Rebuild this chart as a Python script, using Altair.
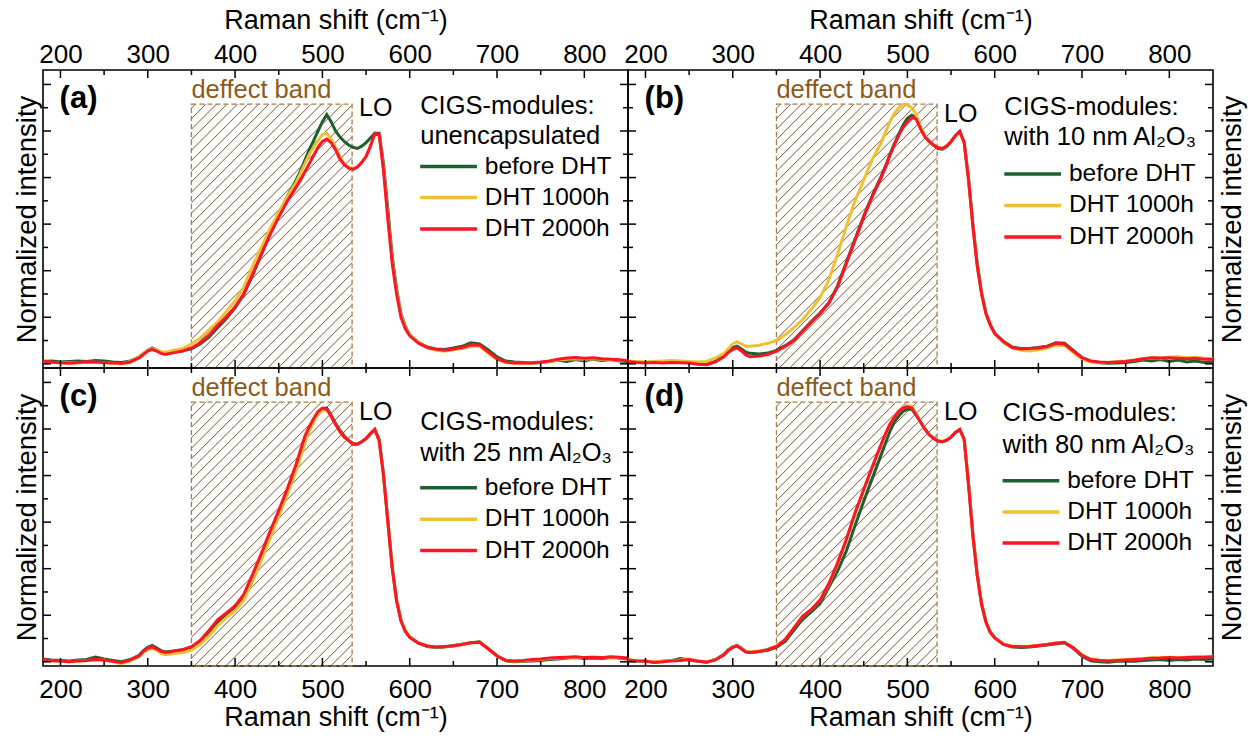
import altair as alt
import pandas as pd

# ---------------- data ----------------
X = [180, 190, 200, 210, 220, 230, 240, 250, 260, 270, 280,
     290, 295, 300, 305, 310, 315, 320,
     330, 340, 350, 360, 370, 380, 390, 400, 410, 420, 430, 440, 450, 460,
     470, 475, 480, 485, 490, 495, 500, 505, 510, 515, 520, 525, 530, 535, 540, 545, 550, 555, 560, 565, 570, 575, 580, 585, 590, 595, 600,
     610, 620, 630, 640, 650, 660, 670, 680, 690, 700, 710, 720, 730, 740, 750, 760, 770, 780, 790, 800, 810, 820, 830, 840, 850]

A_BEFORE = [0.010, 0.012, 0.008, 0.010, 0.012, 0.010, 0.014, 0.012, 0.008, 0.006, 0.012,
            0.030, 0.045, 0.058, 0.068, 0.060, 0.050, 0.045,
            0.050, 0.056, 0.064, 0.085, 0.115, 0.155, 0.195, 0.240, 0.300, 0.380, 0.470, 0.560, 0.645, 0.720,
            0.790, 0.830, 0.875, 0.920, 0.960, 1.000, 1.040, 1.070, 1.040, 1.000, 0.975, 0.955, 0.940, 0.930, 0.925, 0.935, 0.950, 0.970, 0.990, 0.990, 0.860, 0.660, 0.460, 0.320, 0.215, 0.160, 0.125,
            0.092, 0.072, 0.064, 0.062, 0.068, 0.075, 0.090, 0.085, 0.060, 0.030, 0.012, 0.008, 0.006, 0.002, 0.004, 0.010, 0.015, 0.010, 0.018, 0.012, 0.020, 0.014, 0.018, 0.012, 0.010]
A_1000 = [0.010, 0.006, 0.004, 0.005, 0.004, 0.007, 0.006, 0.005, 0.002, 0.000, 0.010,
          0.030, 0.045, 0.058, 0.065, 0.060, 0.052, 0.050,
          0.058, 0.065, 0.085, 0.110, 0.145, 0.180, 0.225, 0.270, 0.330, 0.420, 0.500, 0.580, 0.650, 0.720,
          0.780, 0.820, 0.860, 0.900, 0.930, 0.960, 0.985, 0.990, 0.965, 0.930, 0.890, 0.860, 0.845, 0.840, 0.845, 0.865, 0.890, 0.935, 0.985, 0.985, 0.840, 0.630, 0.440, 0.310, 0.210, 0.155, 0.125,
          0.090, 0.070, 0.058, 0.054, 0.060, 0.066, 0.075, 0.075, 0.045, 0.018, 0.005, 0.002, 0.002, 0.004, 0.006, 0.010, 0.016, 0.020, 0.022, 0.020, 0.022, 0.020, 0.018, 0.015, 0.016]
A_2000 = [0.012, 0.008, 0.005, 0.002, 0.006, 0.009, 0.008, 0.006, 0.004, 0.001, 0.008,
          0.025, 0.040, 0.055, 0.062, 0.055, 0.045, 0.040,
          0.048, 0.055, 0.068, 0.090, 0.122, 0.165, 0.200, 0.245, 0.300, 0.385, 0.470, 0.555, 0.630, 0.700,
          0.760, 0.790, 0.825, 0.860, 0.895, 0.930, 0.955, 0.965, 0.950, 0.920, 0.880, 0.855, 0.840, 0.835, 0.845, 0.865, 0.890, 0.935, 0.990, 0.985, 0.830, 0.620, 0.430, 0.300, 0.200, 0.150, 0.120,
          0.088, 0.070, 0.062, 0.058, 0.064, 0.070, 0.082, 0.080, 0.050, 0.022, 0.008, 0.004, 0.003, 0.005, 0.008, 0.012, 0.020, 0.025, 0.027, 0.024, 0.026, 0.022, 0.020, 0.017, 0.012]

B_BEFORE = [0.010, 0.008, 0.006, 0.009, 0.006, 0.008, 0.007, 0.004, 0.000, -0.002, 0.010,
            0.035, 0.055, 0.070, 0.076, 0.064, 0.050, 0.045,
            0.042, 0.046, 0.058, 0.078, 0.102, 0.142, 0.182, 0.218, 0.262, 0.335, 0.435, 0.535, 0.635, 0.725,
            0.805, 0.850, 0.900, 0.945, 0.985, 1.025, 1.055, 1.068, 1.058, 1.015, 0.978, 0.955, 0.938, 0.925, 0.922, 0.932, 0.955, 0.980, 0.998, 0.952, 0.800, 0.600, 0.430, 0.305, 0.218, 0.168, 0.132,
            0.096, 0.072, 0.066, 0.066, 0.070, 0.076, 0.090, 0.088, 0.058, 0.026, 0.010, 0.004, 0.002, 0.004, 0.006, 0.010, 0.016, 0.012, 0.018, 0.010, 0.016, 0.008, 0.012, 0.006, 0.010]
B_1000 = [0.012, 0.010, 0.008, 0.010, 0.012, 0.014, 0.012, 0.010, 0.008, 0.010, 0.025,
          0.045, 0.065, 0.085, 0.095, 0.085, 0.075, 0.075,
          0.080, 0.088, 0.100, 0.125, 0.155, 0.190, 0.235, 0.285, 0.360, 0.470, 0.590, 0.700, 0.790, 0.880,
          0.950, 0.995, 1.040, 1.075, 1.100, 1.115, 1.112, 1.100, 1.070, 1.020, 0.980, 0.955, 0.940, 0.930, 0.925, 0.935, 0.955, 0.978, 0.995, 0.950, 0.790, 0.590, 0.420, 0.300, 0.215, 0.165, 0.130,
          0.090, 0.068, 0.058, 0.055, 0.060, 0.068, 0.080, 0.078, 0.048, 0.020, 0.008, 0.004, 0.006, 0.010, 0.012, 0.016, 0.022, 0.026, 0.024, 0.028, 0.030, 0.026, 0.028, 0.024, 0.022]
B_2000 = [0.010, 0.006, 0.004, 0.006, 0.004, 0.006, 0.005, 0.003, -0.002, -0.004, 0.008,
          0.030, 0.050, 0.062, 0.068, 0.055, 0.038, 0.030,
          0.033, 0.040, 0.054, 0.075, 0.100, 0.140, 0.180, 0.215, 0.260, 0.330, 0.430, 0.530, 0.630, 0.720,
          0.800, 0.845, 0.895, 0.940, 0.980, 1.015, 1.040, 1.058, 1.052, 1.010, 0.975, 0.955, 0.940, 0.928, 0.925, 0.935, 0.955, 0.980, 0.998, 0.950, 0.790, 0.590, 0.420, 0.300, 0.215, 0.165, 0.130,
          0.095, 0.070, 0.064, 0.066, 0.068, 0.074, 0.088, 0.085, 0.055, 0.026, 0.012, 0.008, 0.006, 0.008, 0.010, 0.015, 0.022, 0.026, 0.025, 0.026, 0.024, 0.022, 0.024, 0.020, 0.020]

C_BEFORE = [0.012, 0.008, 0.006, 0.004, 0.008, 0.010, 0.020, 0.012, 0.006, 0.000, 0.010,
            0.028, 0.048, 0.062, 0.070, 0.060, 0.048, 0.042,
            0.046, 0.052, 0.062, 0.085, 0.125, 0.170, 0.205, 0.235, 0.282, 0.365, 0.455, 0.550, 0.640, 0.735,
            0.840, 0.900, 0.960, 1.005, 1.040, 1.070, 1.088, 1.090, 1.060, 1.025, 0.995, 0.970, 0.952, 0.938, 0.935, 0.945, 0.958, 0.978, 0.998, 0.955, 0.805, 0.605, 0.405, 0.265, 0.178, 0.132, 0.106,
            0.080, 0.066, 0.062, 0.064, 0.070, 0.075, 0.082, 0.086, 0.058, 0.026, 0.004, 0.000, 0.002, 0.004, 0.006, 0.010, 0.012, 0.016, 0.018, 0.014, 0.016, 0.014, 0.018, 0.016, 0.012]
C_1000 = [0.008, 0.004, 0.002, 0.000, 0.004, 0.006, 0.008, 0.008, 0.000, -0.008, 0.004,
          0.022, 0.040, 0.050, 0.058, 0.050, 0.036, 0.030,
          0.035, 0.040, 0.050, 0.075, 0.110, 0.155, 0.190, 0.220, 0.265, 0.345, 0.435, 0.530, 0.625, 0.720,
          0.820, 0.880, 0.940, 0.990, 1.030, 1.065, 1.080, 1.082, 1.055, 1.020, 0.990, 0.965, 0.950, 0.935, 0.935, 0.945, 0.960, 0.980, 0.998, 0.950, 0.800, 0.600, 0.400, 0.262, 0.178, 0.134, 0.108,
          0.082, 0.068, 0.064, 0.066, 0.068, 0.074, 0.082, 0.084, 0.056, 0.024, 0.006, 0.002, 0.004, 0.008, 0.010, 0.014, 0.016, 0.018, 0.020, 0.018, 0.020, 0.018, 0.020, 0.018, 0.016]
C_2000 = [0.010, 0.004, 0.003, 0.000, 0.004, 0.006, 0.010, 0.008, 0.002, -0.003, 0.008,
          0.025, 0.045, 0.058, 0.065, 0.055, 0.045, 0.040,
          0.046, 0.052, 0.065, 0.092, 0.135, 0.180, 0.210, 0.240, 0.290, 0.375, 0.465, 0.560, 0.650, 0.745,
          0.850, 0.910, 0.970, 1.010, 1.045, 1.075, 1.090, 1.085, 1.055, 1.020, 0.990, 0.965, 0.950, 0.935, 0.935, 0.945, 0.960, 0.980, 0.998, 0.950, 0.800, 0.600, 0.400, 0.260, 0.175, 0.130, 0.105,
          0.080, 0.068, 0.064, 0.066, 0.068, 0.074, 0.082, 0.084, 0.055, 0.025, 0.006, 0.004, 0.006, 0.010, 0.012, 0.016, 0.018, 0.020, 0.022, 0.018, 0.020, 0.018, 0.022, 0.020, 0.016]

D_BEFORE = [0.006, 0.004, 0.004, -0.002, 0.002, 0.006, 0.014, 0.008, 0.002, -0.002, 0.010,
            0.032, 0.052, 0.064, 0.070, 0.058, 0.044, 0.040,
            0.044, 0.050, 0.062, 0.088, 0.135, 0.185, 0.215, 0.250, 0.320, 0.390, 0.475, 0.585, 0.690, 0.790,
            0.890, 0.940, 0.990, 1.030, 1.055, 1.075, 1.085, 1.085, 1.060, 1.030, 1.000, 0.975, 0.960, 0.948, 0.945, 0.952, 0.965, 0.985, 0.998, 0.955, 0.770, 0.550, 0.375, 0.250, 0.172, 0.128, 0.104,
            0.076, 0.064, 0.062, 0.064, 0.068, 0.072, 0.078, 0.082, 0.058, 0.024, 0.004, 0.000, -0.002, 0.002, 0.004, 0.002, 0.006, 0.008, 0.010, 0.006, 0.010, 0.008, 0.012, 0.010, 0.012]
D_1000 = [0.010, 0.006, 0.004, 0.000, 0.004, 0.006, 0.008, 0.012, 0.004, 0.000, 0.010,
          0.030, 0.050, 0.062, 0.068, 0.056, 0.044, 0.042,
          0.046, 0.054, 0.068, 0.097, 0.147, 0.195, 0.225, 0.265, 0.332, 0.420, 0.520, 0.635, 0.738, 0.838,
          0.932, 0.978, 1.020, 1.052, 1.078, 1.095, 1.100, 1.098, 1.065, 1.032, 1.002, 0.977, 0.962, 0.950, 0.947, 0.954, 0.966, 0.985, 0.998, 0.958, 0.765, 0.545, 0.372, 0.245, 0.170, 0.126, 0.104,
          0.076, 0.067, 0.066, 0.068, 0.071, 0.075, 0.082, 0.085, 0.062, 0.030, 0.012, 0.008, 0.006, 0.008, 0.010, 0.012, 0.014, 0.017, 0.018, 0.020, 0.018, 0.020, 0.022, 0.022, 0.024]
D_2000 = [0.008, 0.004, 0.002, -0.003, 0.000, 0.004, 0.006, 0.010, 0.003, -0.002, 0.008,
          0.030, 0.050, 0.062, 0.068, 0.055, 0.042, 0.040,
          0.044, 0.052, 0.066, 0.095, 0.145, 0.195, 0.225, 0.265, 0.335, 0.425, 0.525, 0.640, 0.740, 0.840,
          0.935, 0.980, 1.020, 1.050, 1.075, 1.090, 1.095, 1.090, 1.060, 1.030, 1.000, 0.975, 0.960, 0.948, 0.945, 0.952, 0.965, 0.985, 0.998, 0.955, 0.760, 0.540, 0.370, 0.245, 0.170, 0.125, 0.103,
          0.075, 0.066, 0.065, 0.066, 0.070, 0.074, 0.080, 0.083, 0.060, 0.028, 0.010, 0.006, 0.004, 0.006, 0.008, 0.010, 0.012, 0.015, 0.016, 0.018, 0.016, 0.018, 0.020, 0.020, 0.022]

SERIES = ["before DHT", "DHT 1000h", "DHT 2000h"]
LETTERS = ["(a)", "(b)", "(c)", "(d)"]
SUBTITLES = ["unencapsulated", "with 10 nm Al\u2082O\u2083", "with 25 nm Al\u2082O\u2083", "with 80 nm Al\u2082O\u2083"]
X_MAJOR = [200, 300, 400, 500, 600, 700, 800]
X_MINOR = [250, 350, 450, 550, 650, 750]
Y_MAJOR = [0.0, 0.2, 0.4, 0.6, 0.8, 1.0, 1.2]
Y_MINOR = [0.1, 0.3, 0.5, 0.7, 0.9, 1.1]

# ---------------- layout / style ----------------
XMIN, XMAX = 180, 850
YMIN, YMAX = -0.018, 1.262
W, H = 585, 298
FONT = "Liberation Sans"
COLORS = ["#1d5f2f", "#efc132", "#fd1426"]
HATCH = "#85552a"
BAND_EDGE = "#a87c48"
BAND_TEXT = "#8c5b1a"
BAND_X = [350, 534]
BAND_TOP = 1.115

PANELS = [
    dict(series=[A_BEFORE, A_1000, A_2000], lo_y=1.097, leg_x=612, leg_y=[1.107, 0.979, 0.847, 0.714, 0.579], xo="top", yo="left"),
    dict(series=[B_BEFORE, B_1000, B_2000], lo_y=1.075, leg_x=611, leg_y=[1.104, 0.976, 0.815, 0.680, 0.545], xo="top", yo="right"),
    dict(series=[C_BEFORE, C_1000, C_2000], lo_y=1.075, leg_x=612, leg_y=[1.031, 0.896, 0.748, 0.612, 0.478], xo="bottom", yo="left"),
    dict(series=[D_BEFORE, D_1000, D_2000], lo_y=1.075, leg_x=609, leg_y=[1.067, 0.931, 0.778, 0.644, 0.510], xo="bottom", yo="right"),
]


def xs():
    return alt.Scale(domain=[XMIN, XMAX], nice=False, zero=False)


def ys():
    return alt.Scale(domain=[YMIN, YMAX], nice=False, zero=False)


def hatch_frame():
    sx = W / (XMAX - XMIN)
    sy = H / (YMAX - YMIN)
    w = (BAND_X[1] - BAND_X[0]) * sx
    h = (BAND_TOP - YMIN) * sy
    rows = []
    c = -h + 4
    while c < w:
        u0 = max(0.0, c)
        u1 = min(w, h + c)
        if u1 > u0:
            rows.append({"x1": BAND_X[0] + u0 / sx, "y1": YMIN + (u0 - c) / sy,
                         "x2": BAND_X[0] + u1 / sx, "y2": YMIN + (u1 - c) / sy})
        c += 10.5
    return pd.DataFrame(rows)


def make_panel(i, p):
    top = p["xo"] == "top"
    left = p["yo"] == "left"
    xaxis = alt.Axis(orient=p["xo"], values=X_MAJOR, grid=False, ticks=False, tickSize=0, domain=False,
                     labelFont=FONT, labelFontSize=26, labelColor="black",
                     labelPadding=3 if top else 10, labelFlush=False, labelOverlap=False,
                     title="Raman shift (cm\u207b\u00b9)", titleFont=FONT, titleFontSize=27,
                     titleFontWeight="normal", titleColor="black",
                     titlePadding=7 if top else 2)
    yaxis = alt.Axis(orient=p["yo"], labels=False, ticks=False, tickSize=0, domain=False, grid=False,
                     title="Normalized intensity", titleFont=FONT, titleFontSize=27.5,
                     titleFontWeight="normal", titleColor="black",
                     titlePadding=2 if left else 5, titleAngle=270,
                     titleBaseline="bottom" if left else "top")

    def X_(field):
        return alt.X(field, scale=xs(), axis=xaxis)

    def Y_(field):
        return alt.Y(field, scale=ys(), axis=yaxis)

    def text_layer(xv, yv, t, **kw):
        tdf = pd.DataFrame({"x": xv, "y": yv, "t": t})
        return alt.Chart(tdf).mark_text(font=FONT, baseline="middle", **kw).encode(
            x=X_("x:Q"), y=Y_("y:Q"), text="t:N")

    df = pd.DataFrame({"x": X, "s0": p["series"][0], "s1": p["series"][1], "s2": p["series"][2]})
    layers = []

    # hatched defect band
    layers.append(alt.Chart(hatch_frame()).mark_rule(color=HATCH, strokeWidth=1).encode(
        x=X_("x1:Q"), x2="x2:Q", y=Y_("y1:Q"), y2="y2:Q"))
    band = pd.DataFrame({"x1": [BAND_X[0]], "x2": [BAND_X[1]], "y1": [YMIN], "y2": [BAND_TOP]})
    layers.append(alt.Chart(band).mark_rect(fillOpacity=0, stroke=BAND_EDGE, strokeWidth=1.3,
                                            strokeDash=[5, 3]).encode(
        x=X_("x1:Q"), x2="x2:Q", y=Y_("y1:Q"), y2="y2:Q"))

    # spectra
    for k in range(3):
        layers.append(alt.Chart(df).mark_line(color=COLORS[k], strokeWidth=3, clip=True).encode(
            x=X_("x:Q"), y=Y_(f"s{k}:Q")))

    # inward ticks on all four sides
    def ytick(vals, a, b):
        return alt.Chart(pd.DataFrame({"v": vals})).mark_rule(color="black", strokeWidth=1.5).encode(
            y=Y_("v:Q"), x=alt.value(a), x2=alt.value(b))

    def xtick(vals, a, b):
        return alt.Chart(pd.DataFrame({"v": vals})).mark_rule(color="black", strokeWidth=1.5).encode(
            x=X_("v:Q"), y=alt.value(a), y2=alt.value(b))

    layers += [ytick(Y_MAJOR, 0, 8), ytick(Y_MINOR, 0, 5), ytick(Y_MAJOR, W, W - 8), ytick(Y_MINOR, W, W - 5),
               xtick(X_MAJOR, 0, 8), xtick(X_MINOR, 0, 5), xtick(X_MAJOR, H, H - 8), xtick(X_MINOR, H, H - 5)]

    # annotations
    layers.append(text_layer([199], [1.138], [LETTERS[i]], align="left", fontSize=31,
                             fontWeight="bold", color="black"))
    layers.append(text_layer([BAND_X[0]], [1.178], ["deffect band"], align="left", fontSize=25.5,
                             color=BAND_TEXT))
    layers.append(text_layer([561], [p["lo_y"]], ["LO"], align="center", fontSize=25, color="black"))
    lx = p["leg_x"]
    ly = p["leg_y"]
    layers.append(text_layer([lx, lx], ly[:2], ["CIGS-modules:", SUBTITLES[i]], align="left",
                             fontSize=25.5, color="black"))
    leg = pd.DataFrame({"x1": [lx] * 3, "x2": [lx + 65] * 3, "y": ly[2:], "s": SERIES})
    layers.append(alt.Chart(leg).mark_rule(strokeWidth=3.5).encode(
        x=X_("x1:Q"), x2="x2:Q", y=Y_("y:Q"),
        color=alt.Color("s:N", scale=alt.Scale(domain=SERIES, range=COLORS), legend=None)))
    layers.append(text_layer([lx + 74] * 3, ly[2:], SERIES, align="left", fontSize=24.5, color="black"))

    return alt.layer(*layers).properties(width=W, height=H)


panels = [make_panel(i, p) for i, p in enumerate(PANELS)]
chart = alt.concat(*panels, columns=2, spacing=0, bounds="flush").properties(
    autosize=alt.AutoSizeParams(type="none"),
    padding={"left": 43, "top": 70, "right": 1212, "bottom": 664},
    background="white",
).configure(font=FONT).configure_view(stroke="black", strokeWidth=1.6)

chart.save("out.html", embed_options={"renderer": "svg", "actions": False})
